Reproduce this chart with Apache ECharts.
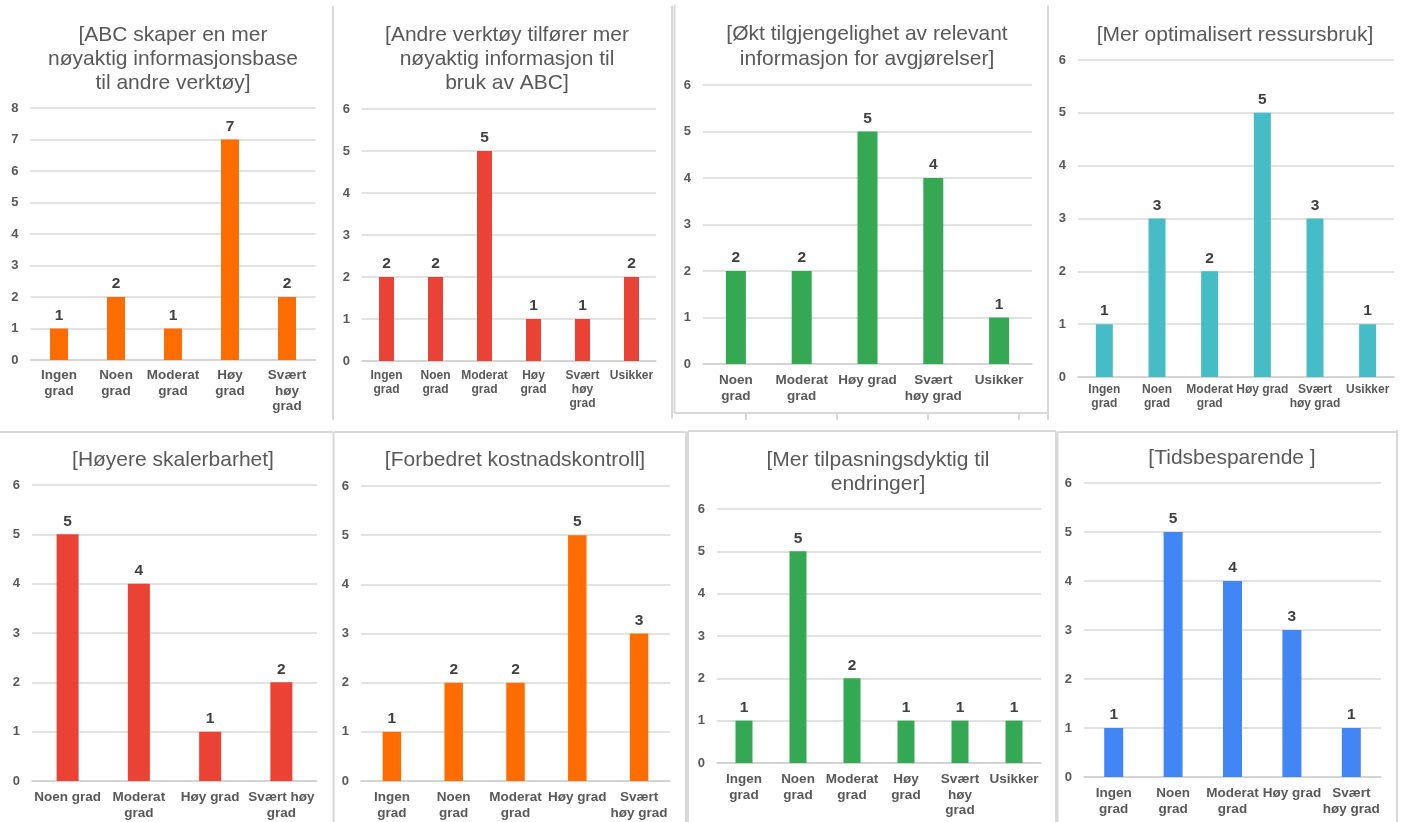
<!DOCTYPE html>
<html>
<head>
<meta charset="utf-8">
<title>Vurdering av ABC</title>
<script src="https://cdn.jsdelivr.net/npm/echarts@6/dist/echarts.min.js"></script>
<style>
  html, body { margin: 0; padding: 0; background: #ffffff; }
  #chart { width: 1403px; height: 822px; }
</style>
</head>
<body>
<div id="chart"></div>
<script>
// ---- Data ----
const titles = [
  '[ABC skaper en mer\nnøyaktig informasjonsbase\ntil andre verktøy]',
  '[Andre verktøy tilfører mer\nnøyaktig informasjon til\nbruk av ABC]',
  '[Økt tilgjengelighet av relevant\ninformasjon for avgjørelser]',
  '[Mer optimalisert ressursbruk]',
  '[Høyere skalerbarhet]',
  '[Forbedret kostnadskontroll]',
  '[Mer tilpasningsdyktig til\nendringer]',
  '[Tidsbesparende ]'
];

const catsAbcBase    = ['Ingen grad', 'Noen grad', 'Moderat grad', 'Høy grad', 'Svært høy grad'];
const valsAbcBase    = [1, 2, 1, 7, 2];

const catsToolsInfo  = ['Ingen grad', 'Noen grad', 'Moderat grad', 'Høy grad', 'Svært høy grad', 'Usikker'];
const valsToolsInfo  = [2, 2, 5, 1, 1, 2];

const catsAvailable  = ['Noen grad', 'Moderat grad', 'Høy grad', 'Svært høy grad', 'Usikker'];
const valsAvailable  = [2, 2, 5, 4, 1];

const catsResources  = ['Ingen grad', 'Noen grad', 'Moderat grad', 'Høy grad', 'Svært høy grad', 'Usikker'];
const valsResources  = [1, 3, 2, 5, 3, 1];

const catsScalable   = ['Noen grad', 'Moderat grad', 'Høy grad', 'Svært høy grad'];
const valsScalable   = [5, 4, 1, 2];

const catsCost       = ['Ingen grad', 'Noen grad', 'Moderat grad', 'Høy grad', 'Svært høy grad'];
const valsCost       = [1, 2, 2, 5, 3];

const catsAdaptable  = ['Ingen grad', 'Noen grad', 'Moderat grad', 'Høy grad', 'Svært høy grad', 'Usikker'];
const valsAdaptable  = [1, 5, 2, 1, 1, 1];

const catsTimeSaving = ['Ingen grad', 'Noen grad', 'Moderat grad', 'Høy grad', 'Svært høy grad'];
const valsTimeSaving = [1, 5, 4, 3, 1];

const axisMax = [8, 6, 6, 6, 6, 6, 6, 6];

// ---- Layout and style for each small chart ----
const FONT = 'Arial, "Liberation Sans", Helvetica, sans-serif';
const ORANGE = '#FF6D01', RED = '#EA4335', GREEN = '#34A853', TEAL = '#46BDC6', BLUE = '#4285F4';

const panels = [
  { cats: catsAbcBase,    vals: valsAbcBase,    color: ORANGE, gx: 30.5, gx2: 315.5, gt: 108, gb: 360, tx: 168, ty: 18, tlh: 24, fs: 13.5, wrap: 56, lm: 8, llh: 15.5, bw: 18 },
  { cats: catsToolsInfo,  vals: valsToolsInfo,  color: RED,    gx: 362,  gx2: 656,   gt: 109, gb: 361, tx: 502, ty: 18, tlh: 24, fs: 12,   wrap: 49, lm: 8, llh: 14,   bw: 15 },
  { cats: catsAvailable,  vals: valsAvailable,  color: GREEN,  gx: 703,  gx2: 1032,  gt: 85,  gb: 364, tx: 862, ty: 17, tlh: 25, fs: 13.5, wrap: 64, lm: 8, llh: 16,   bw: 20 },
  { cats: catsResources,  vals: valsResources,  color: TEAL,   gx: 1078, gx2: 1394,  gt: 60,  gb: 377, tx: 1230, ty: 18, tlh: 24, fs: 12,  wrap: 55, lm: 6, llh: 14,   bw: 17 },
  { cats: catsScalable,   vals: valsScalable,   color: RED,    gx: 32,   gx2: 317,   gt: 485, gb: 781, tx: 168, ty: 443, tlh: 24, fs: 13.5, wrap: 71, lm: 8, llh: 16,  bw: 22 },
  { cats: catsCost,       vals: valsCost,       color: ORANGE, gx: 361,  gx2: 670,   gt: 486, gb: 781, tx: 510, ty: 443, tlh: 24, fs: 13.5, wrap: 62, lm: 8, llh: 16,  bw: 18.5 },
  { cats: catsAdaptable,  vals: valsAdaptable,  color: GREEN,  gx: 717,  gx2: 1041,  gt: 509, gb: 763, tx: 873, ty: 443, tlh: 24, fs: 13.5, wrap: 55, lm: 9, llh: 15.5, bw: 17 },
  { cats: catsTimeSaving, vals: valsTimeSaving, color: BLUE,   gx: 1084, gx2: 1381,  gt: 483, gb: 777, tx: 1227, ty: 441, tlh: 24, fs: 13.5, wrap: 60, lm: 8, llh: 16, bw: 19 }
];

// Greedy word wrap of a category name so every line fits the given pixel width.
const measureCtx = document.createElement('canvas').getContext('2d');
function wrapLabel(text, fontSize, maxWidth) {
  measureCtx.font = 'bold ' + fontSize + 'px ' + FONT;
  const words = text.split(' ');
  const lines = [];
  let line = '';
  words.forEach(w => {
    const trial = line ? line + ' ' + w : w;
    if (line && measureCtx.measureText(trial).width > maxWidth) {
      lines.push(line);
      line = w;
    } else {
      line = trial;
    }
  });
  if (line) lines.push(line);
  return lines.join('\n');
}

const option = {
  animation: false,
  backgroundColor: '#ffffff',
  textStyle: { fontFamily: FONT },
  title: [], grid: [], xAxis: [], yAxis: [], series: [], graphic: []
};

panels.forEach((p, i) => {
  option.title.push({
    text: titles[i],
    left: p.tx, top: p.ty, textAlign: 'center',
    textStyle: { fontFamily: FONT, fontSize: 21, fontWeight: 'normal', color: '#595959', lineHeight: p.tlh }
  });
  option.grid.push({
    left: p.gx, top: p.gt, width: p.gx2 - p.gx, height: p.gb - p.gt, containLabel: false
  });
  option.xAxis.push({
    type: 'category', gridIndex: i, data: p.cats,
    axisTick: { show: false },
    axisLine: { show: true, lineStyle: { color: '#d0d0d0', width: 1.5 } },
    axisLabel: {
      interval: 0, margin: p.lm, color: '#595959', fontFamily: FONT, fontWeight: 'bold',
      fontSize: p.fs, lineHeight: p.llh, align: 'center',
      formatter: v => wrapLabel(v, p.fs, p.wrap)
    }
  });
  option.yAxis.push({
    type: 'value', gridIndex: i, min: 0, max: axisMax[i], interval: 1,
    axisLine: { show: false }, axisTick: { show: false },
    splitLine: { show: true, lineStyle: { color: '#d9d9d9', width: 1.5 } },
    axisLabel: { margin: 12, color: '#595959', fontFamily: FONT, fontWeight: 'bold', fontSize: 13 }
  });
  option.series.push({
    type: 'bar', xAxisIndex: i, yAxisIndex: i, data: p.vals,
    barWidth: p.bw,
    itemStyle: { color: p.color },
    label: {
      show: true, position: 'top', distance: 5,
      color: '#404040', fontFamily: FONT, fontWeight: 'bold', fontSize: 15.5
    }
  });
});

// ---- Frame lines around the small charts ----
const frameColor = '#d8d8d8';
const frames = [
  [333, 6, 333, 420],          // right edge of first chart
  [672, 6, 672, 419],          // right edge of second chart
  [674.5, 5, 674.5, 413],      // box around third chart
  [674.5, 413, 1048, 413],
  [1048, 5, 1048, 420],
  [746, 413, 746, 420], [837, 413, 837, 420], [928, 413, 928, 420], [1019, 413, 1019, 420],
  [0, 432, 333, 432],          // lower row
  [333.5, 432, 333.5, 822],
  [334, 432, 686, 432],
  [686, 432, 686, 822],
  [688, 431, 1056, 431],
  [688, 431, 688, 822],
  [1056, 431, 1056, 822],
  [1057.5, 432, 1057.5, 822],
  [1058, 432, 1397, 432],
  [1397, 430, 1397, 822]
];
frames.forEach(f => {
  option.graphic.push({
    type: 'line', silent: true, z: 0,
    shape: { x1: f[0], y1: f[1], x2: f[2], y2: f[3] },
    style: { stroke: frameColor, lineWidth: 2 }
  });
});

const chart = echarts.init(document.getElementById('chart'), null, { renderer: 'canvas' });
chart.setOption(option);
</script>
</body>
</html>
